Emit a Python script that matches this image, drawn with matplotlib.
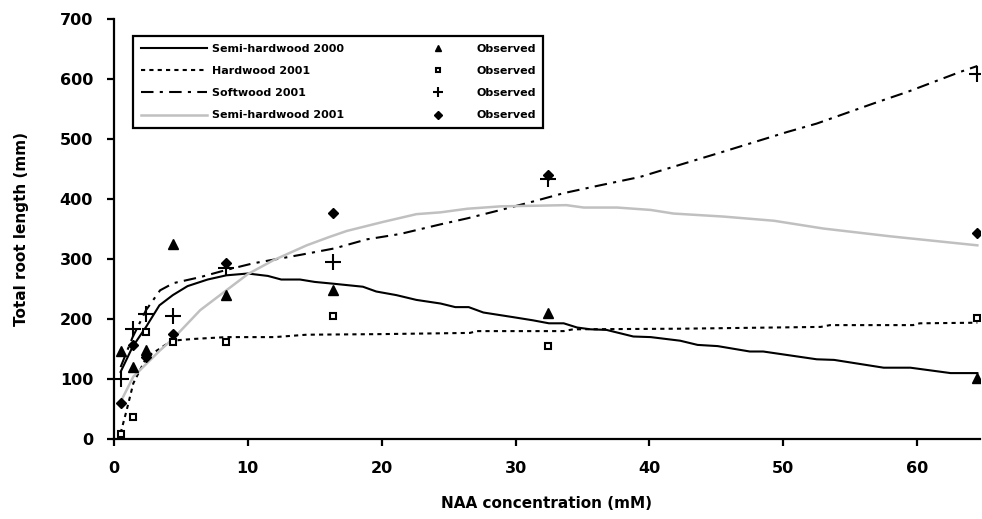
import matplotlib.pyplot as plt
from matplotlib.lines import Line2D

plt.rcParams['font.family'] = ['DejaVu Sans']
plt.rcParams['font.weight'] = 'bold'

# observed NAA concentrations (mM)
obs_x = [0.5, 1.4, 2.4, 4.4, 8.4, 16.4, 32.4, 64.5]

# observed root lengths (mm)
obs_semi2000 = [147, 120, 148, 326, 241, 248, 210, 101]
obs_hard2001 = [9, 36, 178, 162, 162, 205, 155, 202]
obs_soft2001 = [100, 183, 209, 205, 286, 296, 434, 608]
obs_semi2001 = [60, 157, 137, 175, 294, 377, 440, 343]

# fitted curves
semi2000_x = [0.5, 1.4, 2.4, 3.4, 4.4, 5.5, 7.0, 8.4, 10.0, 11.5, 12.5, 13.9, 15.0,
              16.4, 18.6, 19.6, 21.1, 22.6, 24.4, 25.5, 26.5, 27.6, 29.9, 31.3,
              32.5, 33.6, 34.6, 35.6, 36.8, 38.8, 40.1, 42.3, 43.6, 45.1, 47.5,
              48.5, 52.5, 53.8, 57.5, 59.5, 62.5, 64.5]
semi2000_y = [112, 154, 187, 223, 240, 255, 266, 273, 276, 272, 266, 266, 262,
              259, 254, 246, 240, 232, 226, 220, 220, 211, 203, 198,
              193, 193, 186, 183, 182, 171, 170, 164, 157, 155, 146,
              146, 133, 132, 119, 119, 110, 110]

hard2001_x = [0.5, 0.95, 1.45, 1.95, 2.45, 3.45, 4.3, 6.0, 8.4, 12.0, 14.4, 20.0,
              26.6, 27.1, 33.6, 34.3, 42.3, 52.8, 53.5, 59.7, 60.2, 64.5]
hard2001_y = [10, 48, 93, 115, 137, 151, 164, 167, 170, 170, 174, 175,
              177, 180, 180, 183, 184, 187, 190, 190, 193, 194]

soft2001_x = [0.5, 1.4, 2.4, 3.45, 4.45, 6.45, 8.4, 10.4, 13.9, 16.5, 18.9, 21.4,
              24.4, 26.4, 28.9, 31.3, 33.6, 36.3, 39.3, 41.8, 45.5, 50.3, 52.5,
              56.8, 59.3, 63.2, 64.5]
soft2001_y = [120, 170, 215, 248, 260, 270, 282, 293, 307, 318, 333, 342,
              358, 368, 382, 396, 410, 423, 437, 454, 479, 512, 526,
              560, 579, 612, 622]

semi2001_x = [0.5, 1.45, 2.45, 3.45, 4.45, 6.45, 8.4, 10.0, 11.9, 14.4, 16.1, 17.4,
              20.1, 22.6, 24.4, 26.4, 28.9, 33.8, 35.1, 37.6, 40.1, 41.8, 45.5,
              49.3, 53.0, 58.0, 64.5]
semi2001_y = [62, 104, 126, 148, 168, 215, 248, 275, 298, 323, 337, 347,
              362, 375, 378, 384, 388, 390, 386, 386, 382, 376, 371,
              364, 351, 338, 323]

labels = ['Semi-hardwood 2000', 'Hardwood 2001', 'Softwood 2001', 'Semi-hardwood 2001']

fig = plt.figure(figsize=(9.82, 5.19), dpi=100)
ax = fig.add_axes([0.116, 0.154, 0.882, 0.809])

# curves
l1, = ax.plot(semi2000_x, semi2000_y, color='black', lw=1.5)
l2, = ax.plot(hard2001_x, hard2001_y, color='black', lw=1.5, linestyle=(0, (2, 2)))
l3, = ax.plot(soft2001_x, soft2001_y, color='black', lw=1.5, linestyle=(0, (6, 3, 1.5, 3)))
l4, = ax.plot(semi2001_x, semi2001_y, color='#c0c0c0', lw=1.8)

# observed points
p1, = ax.plot(obs_x, obs_semi2000, linestyle='none', marker='^', ms=7, color='black')
p2, = ax.plot(obs_x, obs_hard2001, linestyle='none', marker='s', ms=4.5,
              markerfacecolor='white', markeredgecolor='black', markeredgewidth=1.5)
p3, = ax.plot(obs_x, obs_soft2001, linestyle='none', marker='+', ms=11,
              markeredgewidth=1.5, color='black')
p4, = ax.plot(obs_x, obs_semi2001, linestyle='none', marker='D', ms=5.5, color='black')

ax.set_xlim(0, 64.7)
ax.set_ylim(0, 700)
ax.set_xticks(range(0, 61, 10))
ax.set_yticks(range(0, 701, 100))

for s in ['top', 'right']:
    ax.spines[s].set_visible(False)
for s in ['left', 'bottom']:
    ax.spines[s].set_linewidth(1.6)
ax.tick_params(direction='out', length=5, width=1.6, labelsize=11.5)
ax.tick_params(axis='y', pad=10)
ax.tick_params(axis='x', pad=11)

ax.set_xlabel('NAA concentration (mM)', fontsize=11, fontweight='bold', labelpad=14)
ax.set_ylabel('Total root length (mm)', fontsize=11, fontweight='bold', labelpad=22)

leg = ax.legend([l1, l2, l3, l4, p1, p2, p3, p4],
                labels + ['Observed'] * 4,
                ncol=2, loc='upper left', bbox_to_anchor=(0.022, 0.96),
                borderaxespad=0, fancybox=False, framealpha=1, edgecolor='black',
                fontsize=8, handlelength=6, handletextpad=0.4, columnspacing=5.5,
                labelspacing=1.1, borderpad=0.7, numpoints=1, markerscale=0.7)
leg.get_frame().set_linewidth(1.6)

fig.savefig('out.png', dpi=100)
